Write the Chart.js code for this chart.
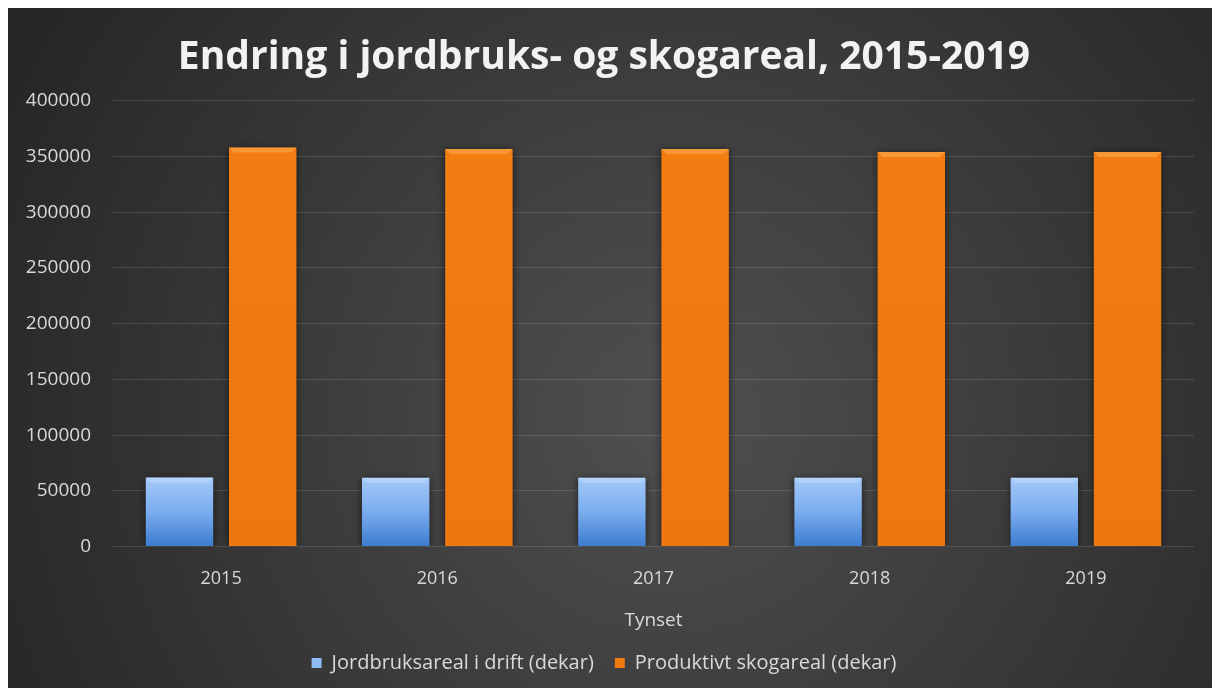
<!DOCTYPE html>
<html>
<head>
<meta charset="utf-8">
<script src="https://cdn.jsdelivr.net/npm/chart.js@4"></script>
<style>
  html, body { margin: 0; padding: 0; background: #ffffff; }
  #wrap { position: absolute; left: 8px; top: 8px; width: 1204px; height: 680px; }
</style>
</head>
<body>
<div id="wrap"><canvas id="chart"></canvas></div>
<script>
const years = ["2015", "2016", "2017", "2018", "2019"];
const jordbruk = [62000, 61800, 61800, 61700, 61700];
const skog = [358000, 356700, 356700, 354000, 354000];
const seriesNames = ["Jordbruksareal i drift (dekar)", "Produktivt skogareal (dekar)"];
const yTicks = [0, 50000, 100000, 150000, 200000, 250000, 300000, 350000, 400000];

const FONT = "'Open Sans', 'DejaVu Sans', sans-serif";
const swatches = ["#8dbcf5", "#f07a10"];

// radial dark background like the office "dark" chart style
const bgPlugin = {
  id: "bg",
  beforeDraw(chart) {
    const { ctx, width, height } = chart;
    const g = ctx.createRadialGradient(width * 0.55, height * 0.6, 30, width * 0.55, height * 0.6, width * 0.62);
    g.addColorStop(0, "#4e4e4e");
    g.addColorStop(1, "#262626");
    ctx.save();
    ctx.fillStyle = g;
    ctx.fillRect(0, 0, width, height);
    ctx.restore();
  }
};

const shadowPlugin = {
  id: "barShadow",
  beforeDatasetsDraw(chart) {
    const ctx = chart.ctx;
    ctx.save();
    ctx.shadowColor = "rgba(0,0,0,0.6)";
    ctx.shadowBlur = 8;
    ctx.shadowOffsetX = 0;
    ctx.shadowOffsetY = 1;
  },
  afterDatasetsDraw(chart) {
    chart.ctx.restore();
    // soft bevel on the top edge of each bar
    const ctx = chart.ctx;
    chart.data.datasets.forEach((ds, i) => {
      const meta = chart.getDatasetMeta(i);
      meta.data.forEach(bar => {
        const w = bar.width;
        const x0 = bar.x - w / 2;
        const y0 = bar.y;
        ctx.save();
        ctx.fillStyle = i === 0 ? "rgba(225,240,255,0.3)" : "rgba(255,185,100,0.45)";
        ctx.beginPath();
        ctx.moveTo(x0, y0);
        ctx.lineTo(x0 + w, y0);
        ctx.lineTo(x0 + w - 5, y0 + 5);
        ctx.lineTo(x0 + 5, y0 + 5);
        ctx.closePath();
        ctx.fill();
        ctx.restore();
      });
    });
  }
};

function blueFill(context) {
  const chart = context.chart;
  const area = chart.chartArea;
  if (!area || context.raw === undefined) return "#7fb2f1";
  const top = chart.scales.y.getPixelForValue(context.raw);
  const g = chart.ctx.createLinearGradient(0, top, 0, area.bottom);
  g.addColorStop(0, "#a4c9f9");
  g.addColorStop(0.5, "#7aacee");
  g.addColorStop(1, "#3c7cd0");
  return g;
}

function orangeFill(context) {
  const chart = context.chart;
  const area = chart.chartArea;
  if (!area) return "#f07a10";
  const g = chart.ctx.createLinearGradient(0, area.top, 0, area.bottom);
  g.addColorStop(0, "#f37e12");
  g.addColorStop(1, "#ef770f");
  return g;
}

new Chart(document.getElementById("chart"), {
  type: "bar",
  data: {
    labels: years,
    datasets: [
      {
        label: seriesNames[0],
        data: jordbruk,
        backgroundColor: blueFill,
        borderWidth: 0,
        categoryPercentage: 0.77,
        barPercentage: 0.81
      },
      {
        label: seriesNames[1],
        data: skog,
        backgroundColor: orangeFill,
        borderWidth: 0,
        categoryPercentage: 0.77,
        barPercentage: 0.81
      }
    ]
  },
  plugins: [bgPlugin, shadowPlugin],
  options: {
    responsive: true,
    maintainAspectRatio: false,
    animation: false,
    devicePixelRatio: 1,
    layout: { padding: { left: 6, right: 18, top: 26, bottom: 5 } },
    plugins: {
      title: {
        display: true,
        text: "Endring i jordbruks- og skogareal, 2015-2019",
        color: "#f2f2f2",
        font: { family: FONT, size: 39, weight: "bold" },
        padding: { top: 0, bottom: 20 }
      },
      legend: {
        position: "bottom",
        labels: {
          color: "#d9d9d9",
          font: { family: FONT, size: 20 },
          boxWidth: 10,
          boxHeight: 10,
          padding: 21,
          generateLabels(chart) {
            const items = Chart.defaults.plugins.legend.labels.generateLabels(chart);
            items.forEach((it, i) => {
              it.fillStyle = swatches[i];
              it.strokeStyle = swatches[i];
              it.lineWidth = 0;
            });
            return items;
          }
        }
      },
      tooltip: { enabled: false }
    },
    scales: {
      x: {
        grid: { display: false },
        border: { display: false },
        ticks: { color: "#d9d9d9", font: { family: FONT, size: 18 }, padding: 13 },
        title: {
          display: true,
          text: "Tynset",
          color: "#d9d9d9",
          font: { family: FONT, size: 19 },
          padding: { top: 7, bottom: 0 }
        }
      },
      y: {
        min: 0,
        max: 400000,
        afterBuildTicks(axis) {
          axis.ticks = yTicks.map(v => ({ value: v }));
        },
        afterFit(axis) {
          axis.width = 99;
        },
        grid: { color: "rgba(255,255,255,0.13)", lineWidth: 1, drawTicks: false },
        border: { display: false },
        ticks: {
          color: "#d9d9d9",
          font: { family: FONT, size: 19 },
          padding: 22,
          callback: v => String(v)
        }
      }
    }
  }
});
</script>
</body>
</html>
